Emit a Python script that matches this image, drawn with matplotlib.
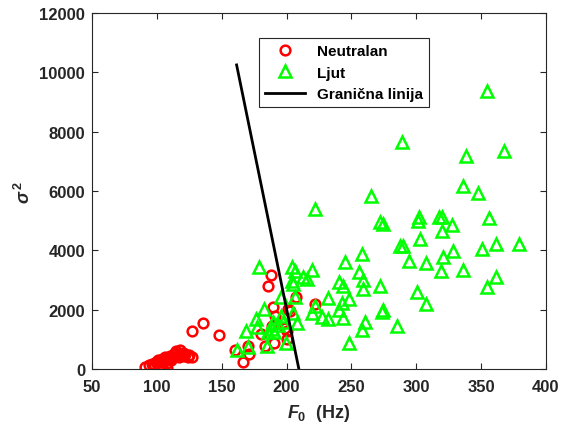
import numpy as np
import matplotlib
matplotlib.use('Agg')
import matplotlib.pyplot as plt

plt.rcParams['font.family'] = ['Liberation Sans', 'DejaVu Sans']
plt.rcParams['font.weight'] = 'bold'
plt.rcParams['mathtext.fontset'] = 'custom'
plt.rcParams['mathtext.it'] = 'Liberation Sans:italic:bold'
plt.rcParams['mathtext.rm'] = 'Liberation Sans:bold'

# Neutralan (F0 in Hz, sigma^2)
neutral_f0 = [91, 94, 96, 98, 99, 100, 101, 102, 103, 104, 104, 105, 106, 107, 108,
              108, 109, 110, 111, 112, 113, 114, 115, 116, 117, 118, 119, 120, 121,
              122, 124, 125, 127,
              126.9, 135.6, 147.9, 166.5, 160.3, 170.5, 171.3, 187.8, 186.0, 189.3,
              191.1, 188.6, 180.1, 183.4, 190.6, 202.7, 201.3, 200.6, 198.8, 207.1,
              221.9, 200.1]
neutral_var = [60, 120, 180, 150, 250, 200, 300, 100, 280, 350, 150, 220, 400, 300, 200,
               30, 350, 450, 300, 400, 500, 550, 620, 480, 420, 650, 500, 550, 450,
               500, 400, 480, 420,
               1290, 1560, 1150, 230, 640, 770, 520, 3170, 2810, 2100,
               1800, 1460, 1180, 770, 880, 1960, 2020, 1290, 1370, 2420,
               2190, 1010]

# Ljut
angry_f0 = [354.3, 289.0, 338.4, 367.7, 335.8, 347.9, 264.9, 221.9, 301.9, 301.3,
            317.3, 319.9, 327.6, 319.6, 356.3, 272.1, 274.1, 302.9, 287.5, 290.0,
            294.6, 307.5, 320.9, 328.1, 318.8, 336.3, 350.7, 361.5, 379.5, 361.5,
            354.3, 300.3, 307.5, 258.0, 245.1, 219.4, 256.1, 259.2, 240.7, 243.3,
            272.0, 259.2, 232.2, 248.4, 242.5, 274.1, 273.4, 240.7, 219.4, 227.1,
            232.2, 243.3, 260.5, 258.0, 284.9, 248.4, 204.0, 206.5, 212.9, 215.5,
            204.0, 205.2, 178.5, 195.5, 206.8, 182.6, 176.4, 195.7, 197.5, 204.7,
            207.8, 168.7, 177.4, 185.9, 190.3, 199.6, 184.7, 170.5, 161.6, 221.9,
            189.8, 193.6, 188.6]
angry_var = [9380, 7640, 7190, 7360, 6180, 5930, 5820, 5390, 5110, 5000,
             5140, 5140, 4850, 4650, 5080, 4940, 4890, 4380, 4160, 4150,
             3650, 3570, 3760, 3990, 3310, 3350, 4040, 4210, 4210, 3090,
             2750, 2610, 2190, 3880, 3600, 3350, 3260, 3010, 2940, 2810,
             2810, 2700, 2380, 2360, 2220, 2000, 1910, 2000, 1890, 1740,
             1690, 1710, 1600, 1330, 1440, 860, 3430, 3310, 3090, 3030,
             2980, 2860, 3430, 2420, 2440, 2020, 1690, 1800, 1570, 1890,
             1550, 1280, 1400, 1240, 1240, 880, 770, 730, 650, 2130,
             1570, 1480, 1350]

# Granicna linija
border_f0 = [161.5, 209.5]
border_var = [10250, 0]

fig = plt.figure(figsize=(5.65, 4.27), dpi=100)
ax = fig.add_axes([0.1628, 0.1335, 0.8035, 0.8337])

ax.plot(neutral_f0, neutral_var, 'o', color='red', mfc='none', ms=7, mew=1.8,
        label='Neutralan')
ax.plot(angry_f0, angry_var, '^', color=(0, 1, 0), mfc='none', ms=8, mew=1.8,
        label='Ljut')
ax.plot(border_f0, border_var, '-', color='black', lw=2, label='Granična linija')

ax.set_xlim(50, 400)
ax.set_ylim(0, 12000)
ax.set_xticks(np.arange(50, 401, 50))
ax.set_yticks(np.arange(0, 12001, 2000))
ax.tick_params(direction='in', top=True, right=True, labelsize=12, length=4,
               color='#262626', labelcolor='#262626')
ax.tick_params(axis='x', pad=7)
ax.tick_params(axis='y', pad=5)
for s in ax.spines.values():
    s.set_color('#262626')
    s.set_linewidth(0.8)

ax.set_xlabel(r'$\mathit{F_0}$  (Hz)', fontsize=13, color='#262626',
              fontweight='bold', labelpad=6)
ax.set_ylabel(r'$\mathit{\sigma}^{\,2}$', fontsize=13, color='#262626',
              fontweight='bold')

leg = ax.legend(loc='upper left', bbox_to_anchor=(0.368, 0.93), borderaxespad=0,
                fancybox=False, edgecolor='#262626', fontsize=11,
                handlelength=2.6, framealpha=1)
leg.get_frame().set_linewidth(0.8)

fig.savefig('out.png', dpi=100)
